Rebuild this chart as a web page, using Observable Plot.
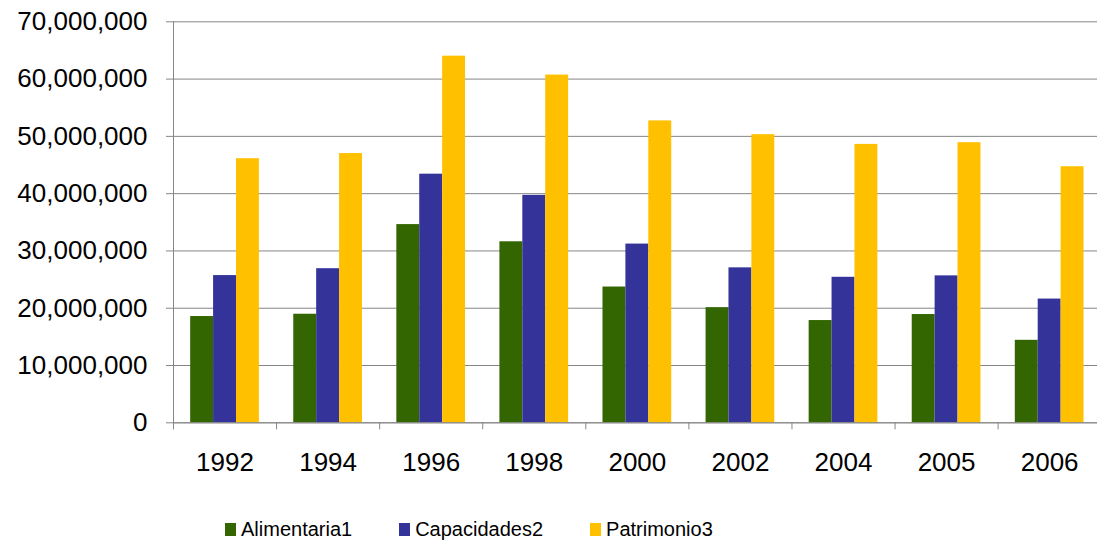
<!DOCTYPE html>
<html>
<head>
<meta charset="utf-8">
<script src="https://cdn.jsdelivr.net/npm/d3@7"></script>
<script src="https://cdn.jsdelivr.net/npm/@observablehq/plot@0.6"></script>
<style>
  html, body { margin: 0; padding: 0; background: #fff; }
  body { width: 1097px; height: 545px; position: relative; overflow: hidden; font-family: "Liberation Sans", Arial, sans-serif; }
  #chart { position: absolute; left: 0; top: 0; }
  #legend { position: absolute; left: 225px; top: 518px; display: flex; align-items: center; font-size: 20px; color: #000; white-space: nowrap; }
  #legend .item { display: flex; align-items: center; margin-right: 47px; }
  #legend .sw { width: 11px; height: 13px; margin-right: 5px; }
</style>
</head>
<body>
<div id="chart"></div>
<div id="legend"></div>
<script>
const years = ["1992", "1994", "1996", "1998", "2000", "2002", "2004", "2005", "2006"];
const alimentaria = [18.55e6, 18.95e6, 34.6e6, 31.6e6, 23.7e6, 20.1e6, 17.85e6, 18.9e6, 14.4e6];
const capacidades = [25.7e6, 26.9e6, 43.4e6, 39.7e6, 31.2e6, 27.05e6, 25.4e6, 25.65e6, 21.6e6];
const patrimonio = [46.1e6, 47.0e6, 64.0e6, 60.7e6, 52.7e6, 50.3e6, 48.6e6, 48.9e6, 44.7e6];
const seriesNames = ["Alimentaria1", "Capacidades2", "Patrimonio3"];
const seriesColors = ["#336600", "#333399", "#FFC000"];
const yTicks = [0, 10e6, 20e6, 30e6, 40e6, 50e6, 60e6, 70e6];

const seriesValues = [alimentaria, capacidades, patrimonio];
const data = seriesNames.map((name, k) => years.map((year, i) => ({year, series: name, value: seriesValues[k][i]})));

const width = 1097, height = 490;
const marginLeft = 173, marginRight = -3.7, marginTop = 21.3, marginBottom = 67.7;
const step = (width - marginLeft - marginRight) / years.length;
const groupOffset = step / 6, barW = step * 2 / 9;
const gridColor = "#868686";

const barMarks = data.map((d, k) => Plot.barY(d, {
  x: "year", y: "value", fill: seriesColors[k],
  insetLeft: groupOffset + k * barW,
  insetRight: step - groupOffset - (k + 1) * barW
}));

const chart = Plot.plot({
  width, height, marginLeft, marginRight, marginTop, marginBottom,
  style: {fontFamily: "'Liberation Sans', Arial, sans-serif", background: "#fff", color: "#000"},
  x: {type: "band", domain: years, padding: 0, round: false},
  y: {domain: [0, 70e6], ticks: yTicks},
  marks: [
    Plot.gridY(yTicks, {stroke: gridColor, strokeOpacity: 1, strokeWidth: 1}),
    ...barMarks,
    Plot.ruleY([0], {stroke: gridColor, strokeWidth: 1}),
    Plot.ruleX([years[0]], {dx: -step / 2, y1: 0, y2: 70e6, stroke: gridColor}),
    Plot.axisY(yTicks, {tickFormat: d3.format(","), fontSize: 26, tickSize: 7, tickPadding: 19, stroke: gridColor, fill: "#000", label: null}),
    Plot.axisX({tickSize: 7, dx: -step / 2, text: null, stroke: gridColor, label: null}),
    Plot.axisX({tickSize: 0, tickPadding: 30, fontSize: 26, fill: "#000", label: null})
  ]
});
document.getElementById("chart").appendChild(chart);

const legend = d3.select("#legend");
seriesNames.forEach((name, k) => {
  const item = legend.append("div").attr("class", "item");
  item.append("div").attr("class", "sw").style("background", seriesColors[k]);
  item.append("span").text(name);
});
</script>
</body>
</html>
